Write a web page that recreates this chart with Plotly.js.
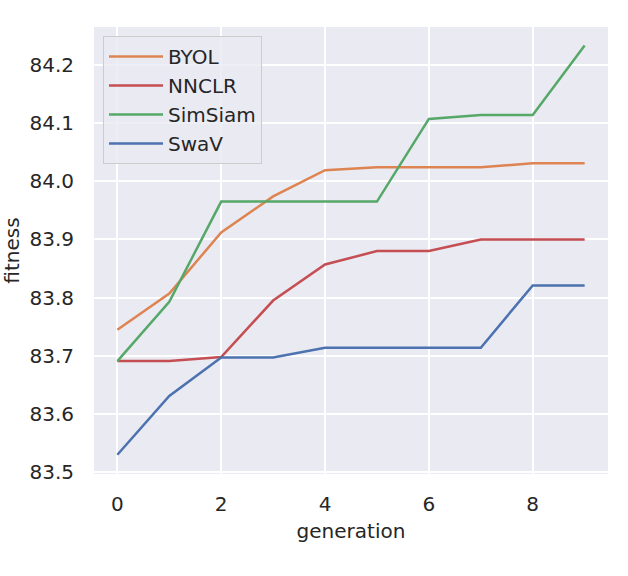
<!DOCTYPE html>
<html>
<head>
<meta charset="utf-8">
<script src="https://cdn.plot.ly/plotly-3.0.1.min.js"></script>
<style>
  html, body { margin: 0; padding: 0; background: #ffffff; }
  #chart { width: 628px; height: 576px; }
</style>
</head>
<body>
<div id="chart"></div>
<script>
const generations = [0, 1, 2, 3, 4, 5, 6, 7, 8, 9];

const byol = [83.745, 83.807, 83.912, 83.974, 84.019, 84.024, 84.024, 84.024, 84.031, 84.031];
const nnclr = [83.691, 83.691, 83.698, 83.795, 83.857, 83.880, 83.880, 83.900, 83.900, 83.900];
const simsiam = [83.691, 83.793, 83.965, 83.965, 83.965, 83.965, 84.107, 84.114, 84.114, 84.233];
const swav = [83.530, 83.631, 83.697, 83.697, 83.714, 83.714, 83.714, 83.714, 83.821, 83.821];

const seriesNames = ["BYOL", "NNCLR", "SimSiam", "SwaV"];
const seriesValues = [byol, nnclr, simsiam, swav];
const seriesColors = ["#dd8452", "#c44e52", "#55a868", "#4c72b0"];

const xTicks = [0, 2, 4, 6, 8];
const yTicks = [83.5, 83.6, 83.7, 83.8, 83.9, 84.0, 84.1, 84.2];

const font = "DejaVu Sans, sans-serif";
const textColor = "#262626";

const traces = seriesNames.map((name, i) => ({
  x: generations,
  y: seriesValues[i],
  type: "scatter",
  mode: "lines",
  name: name,
  line: { color: seriesColors[i], width: 2.5 }
}));

const layout = {
  width: 628,
  height: 576,
  margin: { l: 94, r: 20, t: 27, b: 102 },
  paper_bgcolor: "#ffffff",
  plot_bgcolor: "#eaeaf2",
  font: { family: font, size: 20, color: textColor },
  showlegend: true,
  legend: {
    x: 0.0175,
    y: 0.98,
    xanchor: "left",
    yanchor: "top",
    itemwidth: 54,
    bgcolor: "rgba(234,234,242,0.8)",
    bordercolor: "#cccccc",
    borderwidth: 1,
    font: { family: font, size: 20, color: textColor }
  },
  xaxis: {
    range: [-0.45, 9.45],
    tickvals: xTicks,
    ticktext: xTicks.map(String),
    showgrid: true,
    gridcolor: "#ffffff",
    gridwidth: 2,
    zeroline: false,
    showline: false,
    ticks: "",
    ticklabelstandoff: 16,
    tickfont: { family: font, size: 20, color: textColor },
    title: {
      text: "generation",
      standoff: 8,
      font: { family: font, size: 20, color: textColor }
    }
  },
  yaxis: {
    range: [83.497, 84.265],
    tickvals: yTicks,
    ticktext: yTicks.map(v => v.toFixed(1)),
    showgrid: true,
    gridcolor: "#ffffff",
    gridwidth: 2,
    zeroline: false,
    showline: false,
    ticks: "",
    ticklabelstandoff: 19,
    tickfont: { family: font, size: 20, color: textColor },
    title: {
      text: "fitness",
      standoff: 8,
      font: { family: font, size: 20, color: textColor }
    }
  }
};

Plotly.newPlot("chart", traces, layout, { staticPlot: true, displayModeBar: false });
</script>
</body>
</html>
